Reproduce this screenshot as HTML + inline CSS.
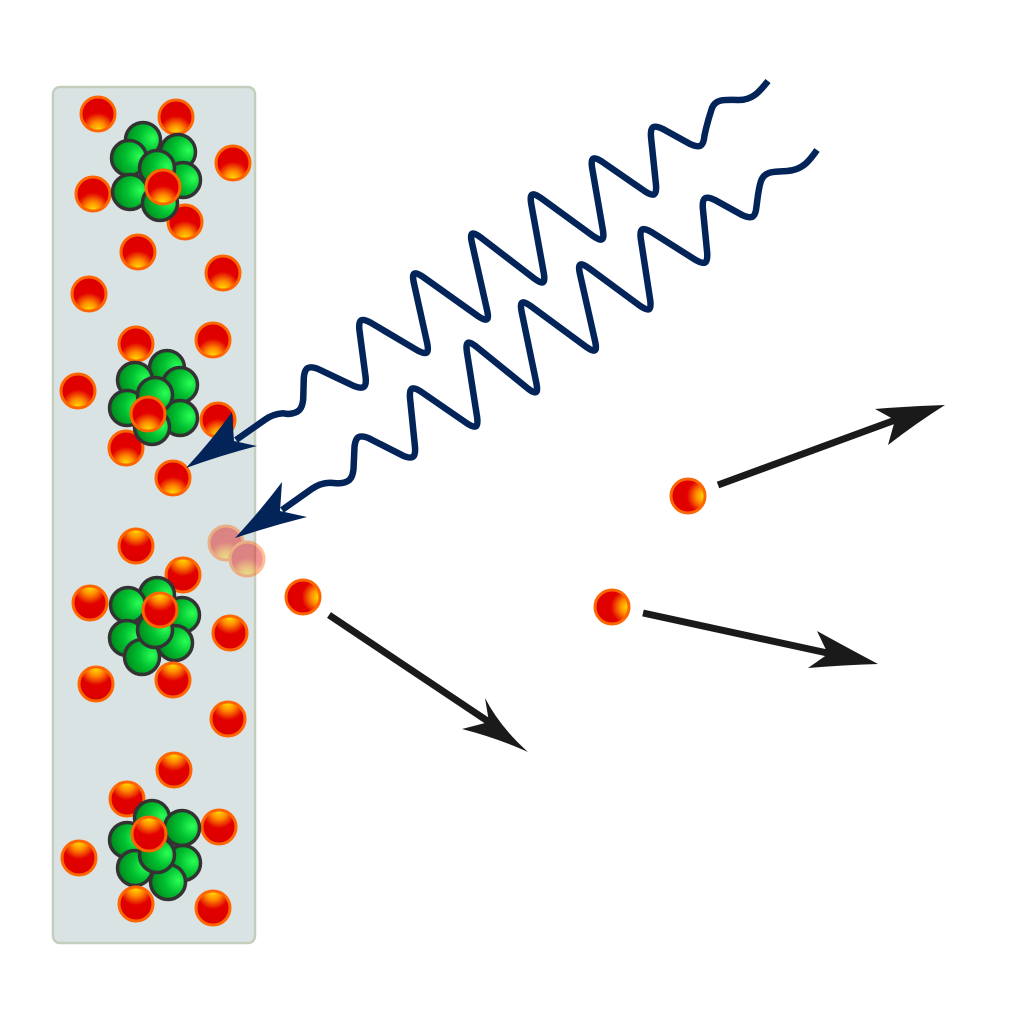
<!DOCTYPE html>
<html>
<head>
<meta charset="utf-8">
<style>
html,body{margin:0;padding:0;background:#fff;}
svg{display:block;}
</style>
</head>
<body>
<svg width="1024" height="1024" viewBox="0 0 1024 1024" xmlns="http://www.w3.org/2000/svg">
<defs>
  <radialGradient id="eB" cx="0.5" cy="0.96" r="0.9" fx="0.5" fy="0.96">
    <stop offset="0" stop-color="#ffdd00"/>
    <stop offset="0.25" stop-color="#ff8c00"/>
    <stop offset="0.55" stop-color="#e20000"/>
    <stop offset="1" stop-color="#dd0000"/>
  </radialGradient>
  <radialGradient id="eT" cx="0.5" cy="0.04" r="0.9" fx="0.5" fy="0.04">
    <stop offset="0" stop-color="#ffdd00"/>
    <stop offset="0.25" stop-color="#ff8c00"/>
    <stop offset="0.55" stop-color="#e20000"/>
    <stop offset="1" stop-color="#dd0000"/>
  </radialGradient>
  <radialGradient id="eR" cx="0.96" cy="0.5" r="0.9" fx="0.96" fy="0.5">
    <stop offset="0" stop-color="#ffdd00"/>
    <stop offset="0.25" stop-color="#ff8c00"/>
    <stop offset="0.55" stop-color="#e20000"/>
    <stop offset="1" stop-color="#dd0000"/>
  </radialGradient>
  <radialGradient id="gn" cx="0.75" cy="0.45" r="0.75" fx="0.8" fy="0.45">
    <stop offset="0" stop-color="#2bff55"/>
    <stop offset="0.5" stop-color="#00c030"/>
    <stop offset="1" stop-color="#00881c"/>
  </radialGradient>
</defs>

<!-- slab -->
<rect x="53" y="87" width="202" height="856" rx="7" ry="7" fill="#dae3e3" stroke="#c4cebd" stroke-width="2.5"/>

<!-- Cluster 1 -->
<g stroke="#ff6600" stroke-width="3" fill="url(#eB)">
  <circle cx="98" cy="114" r="17"/>
  <circle cx="176" cy="117" r="17"/>
  <circle cx="233" cy="163" r="17"/>
  <circle cx="93" cy="194" r="17"/>
  <circle cx="185" cy="222" r="17"/>
  <circle cx="138" cy="252" r="17"/>
  <circle cx="223" cy="273" r="17"/>
  <circle cx="89" cy="294" r="17"/>
</g>
<g stroke="#333" stroke-width="3.5" fill="url(#gn)">
  <circle cx="143" cy="140" r="17.5"/>
  <circle cx="178" cy="152" r="17.5"/>
  <circle cx="129" cy="158" r="17.5"/>
  <circle cx="183" cy="180" r="17.5"/>
  <circle cx="130" cy="192" r="17.5"/>
  <circle cx="160" cy="203" r="17.5"/>
  <circle cx="157" cy="168" r="17.5"/>
</g>
<circle cx="163" cy="187" r="17" stroke="#ff6600" stroke-width="3" fill="url(#eB)"/>

<!-- Cluster 2 -->
<g stroke="#ff6600" stroke-width="3" fill="url(#eB)">
  <circle cx="136" cy="344" r="17"/>
  <circle cx="213" cy="340" r="17"/>
  <circle cx="78" cy="391" r="17"/>
  <circle cx="218" cy="420" r="17"/>
  <circle cx="126" cy="448" r="17"/>
  <circle cx="173" cy="478" r="17"/>
</g>
<g stroke="#333" stroke-width="3.5" fill="url(#gn)">
  <circle cx="167" cy="368" r="17.5"/>
  <circle cx="135" cy="380" r="17.5"/>
  <circle cx="180" cy="385" r="17.5"/>
  <circle cx="127" cy="408" r="17.5"/>
  <circle cx="180" cy="418" r="17.5"/>
  <circle cx="152" cy="427" r="17.5"/>
  <circle cx="155" cy="395" r="17.5"/>
</g>
<circle cx="148" cy="414" r="17" stroke="#ff6600" stroke-width="3" fill="url(#eB)"/>

<!-- Cluster 3 -->
<g stroke="#ff6600" stroke-width="3" fill="url(#eT)">
  <circle cx="136" cy="546" r="17"/>
  <circle cx="183" cy="575" r="17"/>
  <circle cx="90" cy="603" r="17"/>
  <circle cx="230" cy="633" r="17"/>
  <circle cx="96" cy="684" r="17"/>
  <circle cx="228" cy="719" r="17"/>
</g>
<g stroke="#333" stroke-width="3.5" fill="url(#gn)">
  <circle cx="157" cy="595" r="17.5"/>
  <circle cx="128" cy="605" r="17.5"/>
  <circle cx="182" cy="615" r="17.5"/>
  <circle cx="127" cy="638" r="17.5"/>
  <circle cx="175" cy="643" r="17.5"/>
  <circle cx="142" cy="657" r="17.5"/>
  <circle cx="155" cy="630" r="17.5"/>
</g>
<g stroke="#ff6600" stroke-width="3" fill="url(#eT)">
  <circle cx="160" cy="610" r="17"/>
  <circle cx="173" cy="680" r="17"/>
</g>

<!-- Cluster 4 -->
<g stroke="#ff6600" stroke-width="3" fill="url(#eT)">
  <circle cx="174" cy="770" r="17"/>
  <circle cx="127" cy="799" r="17"/>
  <circle cx="219" cy="827" r="17"/>
  <circle cx="79" cy="858" r="17"/>
  <circle cx="213" cy="908" r="17"/>
</g>
<g stroke="#333" stroke-width="3.5" fill="url(#gn)">
  <circle cx="152" cy="818" r="17.5"/>
  <circle cx="182" cy="828" r="17.5"/>
  <circle cx="127" cy="840" r="17.5"/>
  <circle cx="183" cy="863" r="17.5"/>
  <circle cx="135" cy="868" r="17.5"/>
  <circle cx="168" cy="882" r="17.5"/>
  <circle cx="157" cy="855" r="17.5"/>
</g>
<g stroke="#ff6600" stroke-width="3" fill="url(#eT)">
  <circle cx="149" cy="834" r="17"/>
  <circle cx="136" cy="904" r="17"/>
</g>

<!-- ghost electrons -->
<g opacity="0.42" stroke="#ff6600" stroke-width="3" fill="url(#eB)">
  <circle cx="226" cy="543" r="17"/>
  <circle cx="247" cy="559" r="17"/>
</g>

<!-- photon waves -->
<g fill="none" stroke="#022459" stroke-width="6.5" stroke-linecap="butt" stroke-linejoin="round">
  <path d="M768,81 C760,91 753,100 739,100 C727,100 716,98 712,108 C709,117 706,128 704.4,136 C703.4,146.5 699.8,148.5 690.3,144.1 L662.7,128.9 C653.2,124.5 650.2,126.5 651,137 L656,185 C656.8,195.5 654,197.1 645.2,191.5 L601.8,161.5 C593,155.9 590.5,157.5 592.1,167.8 L602.9,230.2 C604.5,240.5 602.1,242 593.4,236.2 L540.6,197.8 C531.9,192 529.6,193.5 531.2,203.8 L543.8,273.2 C545.4,283.5 543.2,285 534.6,278.8 L480.4,237.2 C471.8,231 469.7,232.4 471.9,242.7 L487.1,310.3 C489.3,320.6 487.1,322.1 478.3,316.3 L422.7,276.7 C413.9,270.9 411.7,272.4 413.8,282.7 L427.2,343.3 C429.3,353.6 426.9,355.4 417.6,350.5 L370.4,322.5 C361.1,317.6 358.3,319.5 359.4,329.9 L365.6,377.1 C366.7,387.5 363.7,389.7 353.9,386 L318.1,369 C308.3,365.3 304.7,367.5 303.8,377.9 L303.2,399.1 C302.3,409.5 298.5,413.2 288,414 L283,413.3 Q273,414 264.8,419.8 L236,440"/>
  <path d="M817,150 C810,160 803,170 787,171 C776,172 765,170 761,181 C758,190 757.5,200 756.4,207 C755.4,217.5 751.8,219.5 742.3,215.1 L714.7,199.9 C705.2,195.5 702.2,197.5 702.8,208 L707.2,253 C707.8,263.5 705,265.3 695.8,260.1 L651.2,231.9 C642,226.7 639.4,228.5 640.8,238.9 L650.2,300.1 C651.6,310.5 649.1,312 640.4,306.1 L588.6,267.9 C579.9,262 577.7,263.4 579.9,273.7 L595.1,341.3 C597.3,351.6 595.1,353 586.5,347.1 L530.5,305.9 C521.9,300 519.7,301.4 521.6,311.7 L536.4,383.3 C538.3,393.6 536.2,394.9 527.9,388.5 L476.1,346.5 C467.8,340.1 465.5,341.5 466.9,351.9 L477.1,417.1 C478.5,427.5 476,429.1 467.2,423.5 L420.8,391.5 C412,385.9 409.2,387.5 410,398 L415,447 C415.8,457.5 412.8,459.7 403.1,455.7 L368.9,438.3 C359.2,434.3 355.6,436.5 354.5,446.9 L353.5,469.1 C352.4,479.5 348.5,483.1 338,483.4 L330,482.7 Q320,483 311.9,488.8 L282,510"/>
</g>
<g fill="#022459">
  <path d="M186,468 Q212,440 232,412 L234,441 L257,446 Q222,455 186,468 Z"/>
  <path d="M235,538 Q261,510 282,482 L280,511 L307,517 Q271,526 235,538 Z"/>
</g>

<!-- free electrons -->
<g stroke="#ff6600" stroke-width="3" fill="url(#eR)">
  <circle cx="688" cy="496" r="17"/>
  <circle cx="612" cy="607" r="17"/>
  <circle cx="303" cy="597" r="17"/>
</g>

<!-- electron arrows -->
<g stroke="#1a1a1a" stroke-width="7" fill="none">
  <line x1="329" y1="615" x2="492" y2="724"/>
  <line x1="643" y1="613" x2="832" y2="654"/>
  <line x1="718" y1="485" x2="898" y2="419"/>
</g>
<g fill="#1a1a1a">
  <path d="M528,752 Q500,727 485,698 L489,722 L462,729 Q497,738 528,752 Z"/>
  <path d="M878,664 Q846,647 817,631 L828,654 L808,668 Q844,665 878,664 Z"/>
  <path d="M945,405 Q910,406 875,409 L895,420 L888,445 Q915,424 945,405 Z"/>
</g>
</svg>
</body>
</html>
